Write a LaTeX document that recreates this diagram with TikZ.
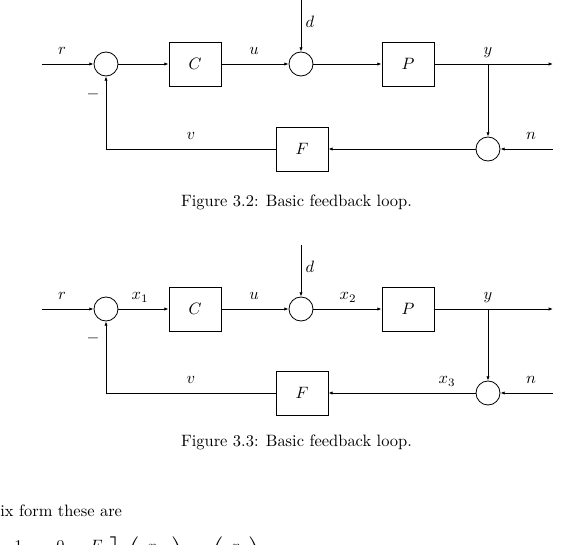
\documentclass[tikz,border=0pt]{standalone}
\usepackage{amsmath}
\usetikzlibrary{arrows.meta}
\tikzset{
	blocknode/.style={
			rectangle,
			draw=black,
			line width=0.5pt,
			minimum width=31.6pt,
			minimum height=26.8pt,
			inner sep=0pt
		},
	sumnode/.style={
			circle,
			draw=black,
			line width=0.5pt,
			minimum size=14.6pt,
			inner sep=0pt
		},
	signalnode/.style={
			anchor=base,
			inner sep=0pt
		},
	wire/.style={
			line width=0.5pt,
			-{Latex[length=2.6pt,width=2pt]}
		}
}
\begin{document}
\begin{tikzpicture}[x=0.608pt, y=-0.608pt]
\useasboundingbox (0,0) rectangle (567,545);

% first loop
\node[sumnode] (sA1) at (106,64) {};
\node[blocknode] (cA) at (195,64) {$C$};
\node[sumnode] (sA2) at (301,64) {};
\node[blocknode] (pA) at (408,64) {$P$};
\node[sumnode] (sA3) at (488,149) {};
\node[blocknode] (fA) at (302,149) {$F$};
\coordinate (rA) at (42,64);
\coordinate (dA) at (301,0);
\coordinate (bA) at (488,64);
\coordinate (oA) at (553,64);
\coordinate (nA) at (553,149);
\coordinate (kA) at (106,149);

\draw[wire] (rA) -- (sA1);
\draw[wire] (sA1) -- (cA);
\draw[wire] (cA) -- (sA2);
\draw[wire] (dA) -- (sA2);
\draw[wire] (sA2) -- (pA);
\draw[wire] (pA) -- (oA);
\draw[wire] (bA) -- (sA3);
\draw[wire] (nA) -- (sA3);
\draw[wire] (sA3) -- (fA);
\draw[wire] (fA) -- (kA) -- (sA1);

\node[signalnode] (lrA) at (62,55) {$r$};
\node[signalnode] (luA) at (254,55) {$u$};
\node[signalnode] (lyA) at (488,55) {$y$};
\node[signalnode] (ldA) at (310,28) {$d$};
\node[signalnode] (lvA) at (191,140) {$v$};
\node[signalnode] (lnA) at (531,140) {$n$};
\node[inner sep=0pt] (lmA) at (93,94) {$-$};
\node[signalnode] (capA) at (296.5,207) {Figure 3.2: Basic feedback loop.};

% second loop
\node[sumnode] (sB1) at (106,309) {};
\node[blocknode] (cB) at (195,309) {$C$};
\node[sumnode] (sB2) at (301,309) {};
\node[blocknode] (pB) at (408,309) {$P$};
\node[sumnode] (sB3) at (488,393) {};
\node[blocknode] (fB) at (302,393) {$F$};
\coordinate (rB) at (42,309);
\coordinate (dB) at (301,245);
\coordinate (bB) at (488,309);
\coordinate (oB) at (553,309);
\coordinate (nB) at (553,393);
\coordinate (kB) at (106,393);

\draw[wire] (rB) -- (sB1);
\draw[wire] (sB1) -- (cB);
\draw[wire] (cB) -- (sB2);
\draw[wire] (dB) -- (sB2);
\draw[wire] (sB2) -- (pB);
\draw[wire] (pB) -- (oB);
\draw[wire] (bB) -- (sB3);
\draw[wire] (nB) -- (sB3);
\draw[wire] (sB3) -- (fB);
\draw[wire] (fB) -- (kB) -- (sB1);

\node[signalnode] (lrB) at (62,300) {$r$};
\node[signalnode] (lx1B) at (140,300) {$x_1$};
\node[signalnode] (luB) at (254,300) {$u$};
\node[signalnode] (lx2B) at (348,300) {$x_2$};
\node[signalnode] (lyB) at (488,300) {$y$};
\node[signalnode] (ldB) at (310,273) {$d$};
\node[signalnode] (lvB) at (191,384) {$v$};
\node[signalnode] (lx3B) at (447,384) {$x_3$};
\node[signalnode] (lnB) at (531,384) {$n$};
\node[inner sep=0pt] (lmB) at (93,338) {$-$};
\node[signalnode] (capB) at (296.5,447) {Figure 3.3: Basic feedback loop.};

% text below, cut by the page edge
\node[anchor=base west, inner sep=0pt] (txt) at (0,516) {ix form these are};
\node[anchor=north west, inner sep=0pt] (eqn) at (-14,537)
  {$\displaystyle \left[\begin{array}{ccc} 1 & 0 & F \\ -C & 1 & 0 \\ 0 & -P & 1 \end{array}\right]
   \left(\begin{array}{c} x_1 \\ x_2 \\ x_3 \end{array}\right) =
   \left(\begin{array}{c} r \\ d \\ n \end{array}\right)$};
\end{tikzpicture}
\end{document}
